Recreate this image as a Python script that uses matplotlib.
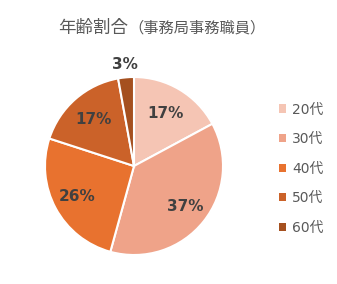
import matplotlib
matplotlib.use("Agg")
import matplotlib.pyplot as plt
from matplotlib.patches import Patch
import numpy as np

categories = ["20代", "30代", "40代", "50代", "60代"]
counts = [6, 13, 9, 6, 1]
colors = ["#F5C5B4", "#EFA389", "#E8722F", "#CB6229", "#A5501F"]
title_main = "年齢割合"
title_sub = "（事務局事務職員）"

W, H = 337, 284
fig = plt.figure(figsize=(W / 100, H / 100), dpi=100)
cx, cy, r = 134, 166, 89
ax = fig.add_axes([(cx - r) / W, (H - cy - r) / H, 2 * r / W, 2 * r / H])

total = sum(counts)
wedges, texts = ax.pie(counts, colors=colors, startangle=90, counterclock=False,
                       radius=1.0,
                       wedgeprops=dict(edgecolor="white", linewidth=1.5))
dists = [0.69, 0.73, 0.73, 0.70, 1.14]
for w, c, d in zip(wedges, counts, dists):
    ang = np.deg2rad((w.theta1 + w.theta2) / 2)
    pct = round(100 * c / total)
    ax.text(d * np.cos(ang), d * np.sin(ang), f"{pct}%", ha="center", va="center",
            fontsize=11, fontweight="bold", color="#404040", family=["DejaVu Sans"])
ax.set_xlim(-1, 1)
ax.set_ylim(-1, 1)
ax.set_aspect("equal")
ax.axis("off")

fam = ["Noto Sans CJK JP", "DejaVu Sans"]
t1 = fig.text(58 / W, 1 - 33 / H, title_main, fontsize=12.6, color="#595959",
              family=fam, ha="left", va="baseline")
fig.canvas.draw()
bb = t1.get_window_extent()
fig.text(bb.x1 / W, 1 - 33 / H, title_sub, fontsize=11, color="#595959",
         family=fam, ha="left", va="baseline")

handles = [Patch(facecolor=c, edgecolor="none") for c in colors]
leg = fig.legend(handles, categories, loc="upper left", bbox_to_anchor=(266 / W, 1 - 90 / H),
                 frameon=False, handlelength=0.55, handleheight=0.55, handletextpad=0.45,
                 labelspacing=1.12, prop={"family": ["DejaVu Sans", "Noto Sans CJK JP"], "size": 10})
for t in leg.get_texts():
    t.set_color("#595959")

fig.savefig("out.png", dpi=100, facecolor="white")
